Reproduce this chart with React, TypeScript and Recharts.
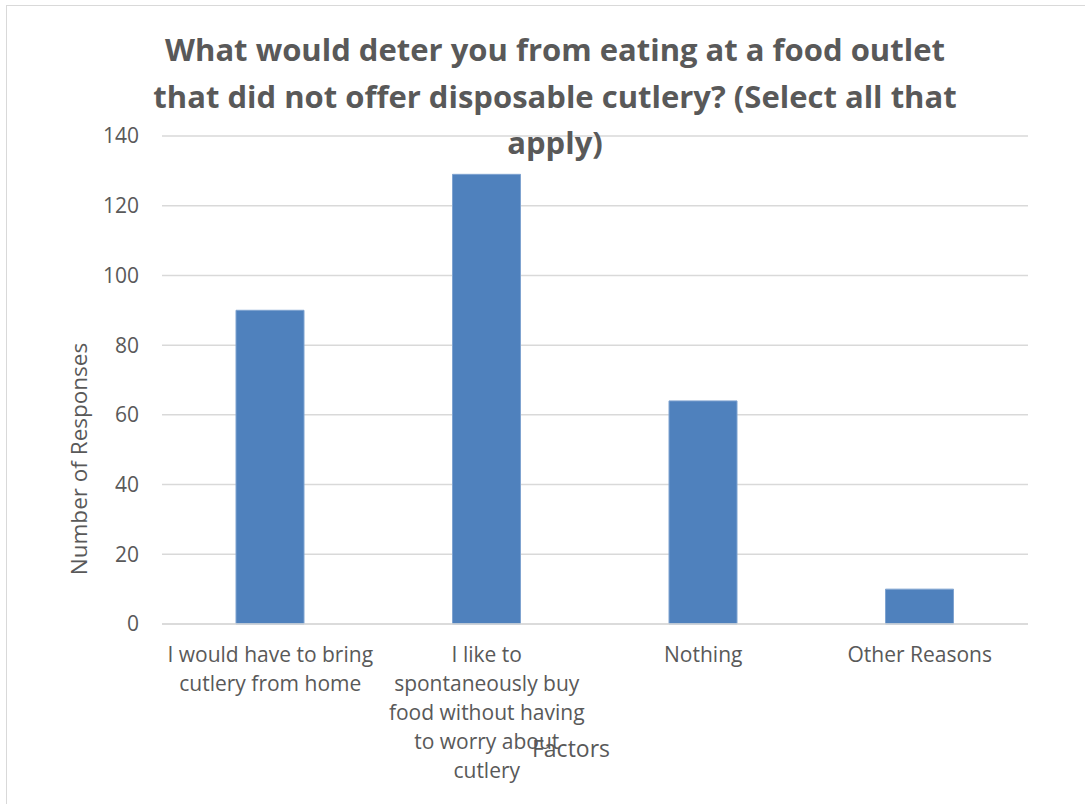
import { BarChart, Bar, XAxis, YAxis, CartesianGrid } from "recharts";

const categories = [
  "I would have to bring cutlery from home",
  "I like to spontaneously buy food without having to worry about cutlery",
  "Nothing",
  "Other Reasons",
];

// how Excel wrapped each category label
const categoryLines = [
  ["I would have to bring", "cutlery from home"],
  ["I like to", "spontaneously buy", "food without having", "to worry about", "cutlery"],
  ["Nothing"],
  ["Other Reasons"],
];

const responses = [90, 129, 64, 10];

const yTicks = [0, 20, 40, 60, 80, 100, 120, 140];

const titleLines = [
  "What would deter you from eating at a food outlet",
  "that did not offer disposable cutlery? (Select all that",
  "apply)",
];

const FONT = "'Open Sans', 'Liberation Sans', sans-serif";
const TEXT = "#595959";

interface TickArgs {
  x?: number;
  y?: number;
  payload?: { value: string; index: number };
}

function CategoryTick({ x = 0, y = 0, payload }: TickArgs) {
  const idx = payload ? categories.indexOf(payload.value) : -1;
  const lines = idx >= 0 ? categoryLines[idx] : [];
  return (
    <text
      x={x}
      y={y}
      textAnchor="middle"
      fill={TEXT}
      fontSize={21}
      fontFamily={FONT}
    >
      {lines.map((line, i) => (
        <tspan key={i} x={x} dy={i === 0 ? 30 : 29}>
          {line}
        </tspan>
      ))}
    </text>
  );
}

export default function App() {
  const data = categories.map((name, i) => ({
    name,
    value: responses[i],
  }));

  return (
    <div
      style={{
        position: "absolute",
        left: 0,
        top: 0,
        width: 1085,
        height: 804,
        background: "#fff",
        fontFamily: FONT,
        overflow: "hidden",
      }}
    >
      {/* chart frame (only top and left edges are in view) */}
      <div
        style={{
          position: "absolute",
          left: 6,
          top: 5,
          width: 1100,
          height: 820,
          border: "1.5px solid #d9d9d9",
          boxSizing: "border-box",
        }}
      />

      <BarChart
        width={1085}
        height={804}
        data={data}
        margin={{ top: 136, right: 57, left: 102, bottom: 30 }}
        style={{ position: "absolute", left: 0, top: 0 }}
      >
        <CartesianGrid vertical={false} stroke="#d9d9d9" strokeWidth={1.5} />
        <XAxis
          dataKey="name"
          axisLine={{ stroke: "#d9d9d9", strokeWidth: 1.5 }}
          tickLine={false}
          height={150}
          interval={0}
          tick={<CategoryTick />}
        />
        <YAxis
          domain={[0, 140]}
          ticks={yTicks}
          axisLine={false}
          tickLine={false}
          width={60}
          tickMargin={17}
          tick={{ fontSize: 21, fill: TEXT, fontFamily: FONT }}
        />
        <Bar
          dataKey="value"
          fill="#4f81bd"
          stroke="#7fa3d0"
          strokeWidth={1}
          barSize={68}
          isAnimationActive={false}
        />
      </BarChart>

      {/* Title */}
      <div
        style={{
          position: "absolute",
          left: 0,
          width: 1110,
          top: 26,
          textAlign: "center",
          fontWeight: 700,
          fontSize: 31,
          lineHeight: "46.5px",
          color: TEXT,
          pointerEvents: "none",
        }}
      >
        {titleLines.map((l, i) => (
          <div key={i}>{l}</div>
        ))}
      </div>

      {/* Y axis title */}
      <div
        style={{
          position: "absolute",
          left: 78,
          top: 459,
          transform: "translate(-50%, -50%) rotate(-90deg)",
          whiteSpace: "nowrap",
          fontSize: 22.5,
          color: TEXT,
        }}
      >
        Number of Responses
      </div>

      {/* X axis title */}
      <div
        style={{
          position: "absolute",
          left: 571,
          top: 748,
          transform: "translate(-50%, -50%)",
          whiteSpace: "nowrap",
          fontSize: 23,
          color: TEXT,
        }}
      >
        Factors
      </div>
    </div>
  );
}
